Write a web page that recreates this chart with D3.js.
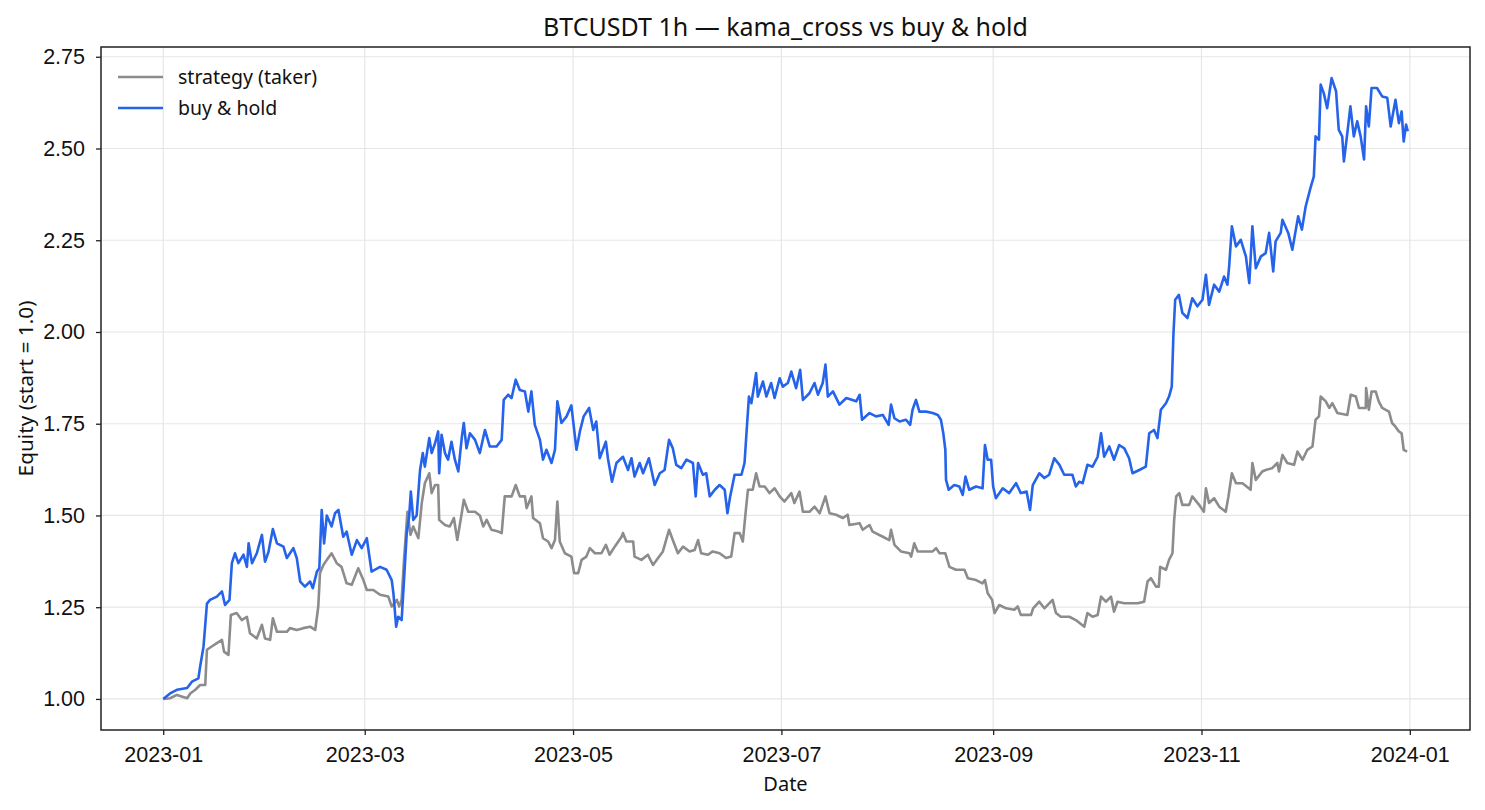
<!DOCTYPE html>
<html>
<head>
<meta charset="utf-8">
<script src="https://cdn.jsdelivr.net/npm/d3@7"></script>
<style>
  html, body { margin:0; padding:0; background:#fff; }
  svg { display:block; font-family:"Noto Sans", "DejaVu Sans", sans-serif; }
</style>
</head>
<body>
<svg id="chart" width="1485" height="810"></svg>
<script>
// ===== DATA (days since 2023-01-01, equity normalised to start = 1.0) =====
const startDate = "2023-01-01";
const holdDays = [0,2,4,7,8.4,10.3,10.8,11.8,12.8,13.7,15.7,17.2,18.1,19.4,20.1,21,22,23.5,24.5,25,26,27.4,28.9,29.8,30.8,32.1,33.3,35.2,36.2,38.1,39.1,40.1,41.5,43,43.8,45,45.7,46.4,47.1,47.9,49.3,50.3,51.3,52.7,53.7,55.2,56.7,58.1,59.6,61,63.5,65.4,66.9,67.4,68.2,68.8,69.8,70.5,71.3,72,72.5,73.2,74.2,75.2,76,76.6,77.9,78.6,79.6,80.5,80.8,81.5,82.5,83.4,84.4,85.4,86.4,87.4,88,88.8,89.8,91.3,92.7,94.2,95.6,97.6,99.1,99.7,101,102,103.2,104.4,105.9,106.9,107.8,108.8,110.3,111.2,112.2,113.7,114.7,115.4,116.6,118.1,119.5,121,122,123.1,124.7,125.9,126.8,127.8,129.6,130.2,131.4,132.7,134.6,136.1,137.1,138,139.5,140.5,142.2,143.9,145.4,146.8,148.1,149.2,150.2,151.7,153.2,155.1,155.9,156.6,158,159,160,161.5,162.9,164.4,165.2,166,167.3,169.3,170.2,170.9,171.5,172.2,173.6,174.1,175.6,176.6,178,179,180.5,181.4,182.9,183.9,185.3,186.5,187.3,189.2,190.7,191.7,193.1,193.9,194.6,196.1,198,200,202.9,203.9,204.6,206.8,208.7,210.7,212.4,213.1,214.1,215.6,217.5,218.7,219.4,220.4,221.4,223.4,225.3,226.8,227.7,228.4,229,229.2,230,231.6,233.1,234.1,234.9,236,238,239.9,240.6,241.4,242.4,243,243.8,245.8,247.7,249.7,251.1,252.8,253.8,254.6,256.5,258,259.4,260.9,262.4,263.8,266.2,267.2,268.2,269.2,270.6,272.1,273.6,274.6,275.5,277,278.4,279.9,281.4,282.8,283.8,285.8,287.7,288.7,290.1,291.1,292.1,293.6,294.5,295.3,295.8,296.3,297.4,298.4,299.9,301.3,302.8,304.3,305.3,306.2,307.7,309.2,310.6,311.6,312.1,312.9,314.1,315.5,317,318,318.9,319.9,321.4,322.8,323.8,325,325.7,327.2,327.7,329.4,330.6,332.3,333.4,334.5,335.9,336.9,337.4,338.4,338.9,339.8,340.8,342.1,343.4,344.2,345.2,345.7,346.7,347.6,348.6,349.6,350.6,351.6,352.2,353,353.8,355.4,356.9,358.4,359.4,360.8,361.8,362.6,363.2,363.9,364.4];
const holdEquity = [1.00,1.015,1.025,1.03,1.047,1.056,1.088,1.143,1.26,1.27,1.279,1.293,1.256,1.27,1.37,1.397,1.37,1.393,1.36,1.424,1.37,1.397,1.447,1.374,1.40,1.463,1.424,1.415,1.384,1.411,1.384,1.32,1.306,1.32,1.302,1.347,1.356,1.515,1.424,1.50,1.47,1.506,1.515,1.442,1.456,1.393,1.433,1.411,1.438,1.347,1.36,1.352,1.324,1.288,1.197,1.224,1.215,1.324,1.452,1.497,1.565,1.488,1.50,1.624,1.67,1.633,1.711,1.67,1.697,1.729,1.615,1.72,1.67,1.652,1.701,1.652,1.62,1.711,1.752,1.683,1.724,1.706,1.67,1.733,1.688,1.688,1.706,1.815,1.829,1.82,1.87,1.842,1.838,1.783,1.838,1.747,1.706,1.652,1.679,1.643,1.679,1.811,1.752,1.77,1.80,1.679,1.729,1.77,1.793,1.733,1.756,1.656,1.701,1.656,1.592,1.643,1.66,1.624,1.656,1.606,1.643,1.615,1.656,1.583,1.615,1.624,1.706,1.683,1.638,1.629,1.652,1.643,1.552,1.643,1.611,1.615,1.552,1.57,1.583,1.57,1.506,1.552,1.611,1.611,1.643,1.742,1.824,1.806,1.888,1.824,1.865,1.824,1.861,1.82,1.874,1.851,1.861,1.892,1.847,1.897,1.815,1.833,1.861,1.829,1.861,1.911,1.824,1.838,1.802,1.82,1.811,1.829,1.761,1.779,1.77,1.774,1.747,1.802,1.765,1.756,1.761,1.747,1.788,1.815,1.783,1.783,1.779,1.774,1.761,1.724,1.679,1.597,1.57,1.583,1.579,1.556,1.606,1.57,1.579,1.574,1.692,1.652,1.652,1.579,1.547,1.574,1.561,1.588,1.561,1.565,1.515,1.583,1.615,1.602,1.611,1.656,1.638,1.611,1.611,1.579,1.592,1.588,1.638,1.633,1.66,1.724,1.66,1.688,1.652,1.692,1.683,1.656,1.615,1.624,1.633,1.724,1.733,1.711,1.788,1.806,1.824,1.851,1.997,2.088,2.101,2.052,2.038,2.092,2.07,2.088,2.156,2.074,2.129,2.11,2.151,2.129,2.179,2.288,2.233,2.251,2.206,2.133,2.288,2.174,2.206,2.215,2.27,2.165,2.247,2.27,2.306,2.27,2.224,2.315,2.279,2.342,2.392,2.424,2.533,2.524,2.674,2.651,2.61,2.692,2.656,2.551,2.533,2.465,2.542,2.615,2.533,2.574,2.533,2.47,2.615,2.56,2.665,2.665,2.642,2.638,2.56,2.633,2.569,2.601,2.519,2.565,2.547];

const stratDays = [0,2,4,7,7.9,9.4,10.8,12.3,12.8,14.2,15.7,17.2,17.8,19.1,19.8,21.5,23,24.5,25.4,27.4,28.9,29.8,31.3,32.1,33.3,36.2,37.1,39.1,41,43,44.5,45.4,45.9,46.9,47.9,49.3,50.8,52.2,53.7,55.2,57.1,58.6,59.6,61.5,63.5,65.9,66.9,68.4,69.1,69.8,70.5,71.5,72.4,73.2,74.7,75.7,76.6,77.9,78.6,79.6,80.5,80.8,82.5,83.9,85.1,86.1,87.4,88,89.3,91.3,92.7,93.7,94.7,96.1,98.1,99.1,100,102,103.2,104.4,105.9,106.4,107.8,108.3,110.3,111.2,112.7,113.7,114.7,115.4,116.1,117.6,119.5,120.3,121.5,122.5,123.9,124.9,126.4,128.3,129.6,130.7,132.2,134.2,134.6,135.6,137.6,138,140,141.9,143.4,144.9,146.3,148.1,149.2,150.7,152.2,154.1,155.6,156.6,157.5,159.5,160.9,162.9,164.8,166.3,167.3,168.8,169.7,170.5,171.2,172.6,173.6,174.6,176.1,177.5,179,180.5,181.9,183.9,184.8,186.3,187.3,189.2,190.7,192.2,193.9,195.1,197,199,200.4,200.9,203.9,204.8,206.8,207.7,210.7,212.6,213.1,214.1,216,218.5,219,219.9,220.9,225.3,226.3,227.3,229,230.2,232.1,234.6,235.6,238,239.9,240.6,241.4,242.7,243.4,244.8,246.8,249.2,250.2,251.1,254.1,254.7,256.5,258,260.4,261.4,262.8,265.3,267.2,269.7,270.6,272.1,273.6,274.6,276,277.5,278.4,279.4,281.4,285.3,287.2,288.2,289.2,290.7,291.5,291.9,293.6,294.5,295.5,296,296.6,297.5,298.4,300.4,301.3,303.3,304.7,305.3,306.2,307.7,309.2,311.1,311.9,312.9,314.1,316,318.4,318.9,319.9,321.8,322.8,324.7,326.2,326.7,327.7,329.1,331.1,332.1,333.6,335,336.5,337.4,338.4,338.9,340.4,341.4,342.3,343.8,346.7,347.7,349.2,350.1,352.1,352.2,353,353.8,355,355.9,356.9,358.9,359.8,360.8,361.8,362.6,363.2,364.2];
const stratEquity = [1.00,1.002,1.011,1.002,1.015,1.025,1.038,1.038,1.134,1.143,1.152,1.161,1.129,1.12,1.229,1.234,1.215,1.224,1.179,1.165,1.202,1.165,1.161,1.22,1.183,1.183,1.193,1.188,1.193,1.197,1.188,1.252,1.343,1.365,1.379,1.397,1.37,1.36,1.315,1.311,1.356,1.324,1.297,1.297,1.284,1.279,1.252,1.27,1.252,1.27,1.379,1.51,1.447,1.47,1.438,1.534,1.588,1.615,1.561,1.583,1.583,1.488,1.474,1.47,1.493,1.433,1.506,1.543,1.51,1.51,1.50,1.47,1.488,1.461,1.456,1.452,1.552,1.552,1.583,1.552,1.552,1.52,1.552,1.493,1.479,1.438,1.429,1.411,1.433,1.538,1.429,1.397,1.388,1.343,1.343,1.379,1.388,1.411,1.397,1.397,1.42,1.393,1.415,1.442,1.452,1.429,1.429,1.388,1.379,1.393,1.365,1.384,1.402,1.461,1.433,1.397,1.415,1.402,1.406,1.433,1.397,1.393,1.402,1.397,1.384,1.388,1.452,1.452,1.429,1.506,1.57,1.57,1.615,1.579,1.579,1.561,1.574,1.552,1.538,1.561,1.534,1.565,1.51,1.51,1.524,1.506,1.552,1.506,1.502,1.493,1.502,1.474,1.479,1.461,1.474,1.456,1.442,1.433,1.461,1.42,1.402,1.397,1.388,1.424,1.402,1.402,1.411,1.397,1.397,1.36,1.352,1.352,1.329,1.324,1.315,1.324,1.288,1.27,1.234,1.256,1.247,1.243,1.252,1.229,1.229,1.247,1.265,1.247,1.27,1.234,1.224,1.224,1.215,1.197,1.234,1.224,1.229,1.279,1.265,1.279,1.238,1.265,1.261,1.261,1.265,1.32,1.329,1.306,1.306,1.36,1.352,1.379,1.397,1.488,1.552,1.561,1.529,1.529,1.552,1.529,1.51,1.574,1.534,1.547,1.524,1.51,1.552,1.615,1.588,1.588,1.57,1.643,1.597,1.62,1.624,1.629,1.643,1.62,1.665,1.643,1.638,1.674,1.652,1.679,1.688,1.761,1.77,1.824,1.811,1.793,1.806,1.779,1.774,1.829,1.824,1.793,1.793,1.847,1.788,1.838,1.838,1.811,1.793,1.783,1.752,1.742,1.729,1.724,1.679,1.674];

const xTickLabels = ["2023-01","2023-03","2023-05","2023-07","2023-09","2023-11","2024-01"];
const yTickValues = [1.00,1.25,1.50,1.75,2.00,2.25,2.50,2.75];

const seriesNames = ["strategy (taker)","buy & hold"];
const seriesColors = ["#8c8c8c","#2563eb"];

// ===== BUILD =====
const t0 = Date.parse(startDate + "T00:00:00Z");
const toDate = d => new Date(t0 + d * 864e5);
const hold = holdDays.map((d,i) => ({date: toDate(d), value: holdEquity[i]}));
const strat = stratDays.map((d,i) => ({date: toDate(d), value: stratEquity[i]}));

const svg = d3.select("#chart");
const width = 1485, height = 810;
const margin = {top:47, right:15, bottom:80, left:101};

// matplotlib-style 5% margins around the data
const allX = hold.concat(strat).map(d => +d.date);
const allY = holdEquity.concat(stratEquity);
const [xmin,xmax] = d3.extent(allX), [ymin,ymax] = d3.extent(allY);
const xpad = (xmax - xmin) * 0.05, ypad = (ymax - ymin) * 0.05;

const x = d3.scaleUtc().domain([new Date(xmin - xpad), new Date(xmax + xpad)]).range([margin.left, width - margin.right]);
const y = d3.scaleLinear().domain([ymin - ypad, ymax + ypad]).range([height - margin.bottom, margin.top]);

const xTickDates = xTickLabels.map(s => new Date(Date.parse(s + "-01T00:00:00Z")));

// grid
const grid = svg.append("g").attr("stroke","#e6e6e6").attr("stroke-width",1.2);
grid.selectAll(".gx").data(xTickDates).join("line")
  .attr("x1",d=>x(d)).attr("x2",d=>x(d)).attr("y1",margin.top).attr("y2",height-margin.bottom);
grid.selectAll(".gy").data(yTickValues).join("line")
  .attr("x1",margin.left).attr("x2",width-margin.right).attr("y1",d=>y(d)).attr("y2",d=>y(d));

// lines
const line = d3.line().x(d=>x(d.date)).y(d=>y(d.value));
svg.append("path").datum(strat).attr("fill","none").attr("stroke",seriesColors[0])
  .attr("stroke-width",2.6).attr("stroke-linejoin","round").attr("d",line);
svg.append("path").datum(hold).attr("fill","none").attr("stroke",seriesColors[1])
  .attr("stroke-width",2.6).attr("stroke-linejoin","round").attr("d",line);

// axes
const xAxis = svg.append("g").attr("transform",`translate(0,${height-margin.bottom})`)
  .call(d3.axisBottom(x).tickValues(xTickDates).tickFormat(d3.utcFormat("%Y-%m")).tickSize(5).tickPadding(11.5));
const yAxis = svg.append("g").attr("transform",`translate(${margin.left},0)`)
  .call(d3.axisLeft(y).tickValues(yTickValues).tickFormat(d3.format(".2f")).tickSize(5).tickPadding(11));
[xAxis,yAxis].forEach(g => {
  g.select(".domain").remove();
  g.selectAll(".tick line").attr("stroke","#222").attr("stroke-width",1.3);
  g.selectAll(".tick text").attr("fill","#111").style("font-size","21.5px");
});

// frame
svg.append("rect").attr("x",margin.left).attr("y",margin.top)
  .attr("width",width-margin.left-margin.right).attr("height",height-margin.top-margin.bottom)
  .attr("fill","none").attr("stroke","#222").attr("stroke-width",1.5);

// title + labels
svg.append("text").attr("x",(margin.left+width-margin.right)/2).attr("y",36)
  .attr("text-anchor","middle").style("font-size","25px").attr("fill","#111")
  .text("BTCUSDT 1h — kama_cross vs buy & hold");
svg.append("text").attr("x",(margin.left+width-margin.right)/2).attr("y",791)
  .attr("text-anchor","middle").style("font-size","20px").attr("fill","#111").text("Date");
svg.append("text").attr("transform",`translate(33,${(margin.top+height-margin.bottom)/2}) rotate(-90)`)
  .attr("text-anchor","middle").style("font-size","20.8px").attr("fill","#111").text("Equity (start = 1.0)");

// legend
const legend = svg.append("g").attr("transform",`translate(${margin.left+17},${margin.top+30})`);
seriesNames.forEach((name,i) => {
  const g = legend.append("g").attr("transform",`translate(0,${i*31})`);
  g.append("line").attr("x1",0).attr("x2",45).attr("y1",0).attr("y2",0)
    .attr("stroke",seriesColors[i]).attr("stroke-width",2.6);
  g.append("text").attr("x",60).attr("y",7).style("font-size","19.5px").attr("fill","#111").text(name);
});
</script>
</body>
</html>
